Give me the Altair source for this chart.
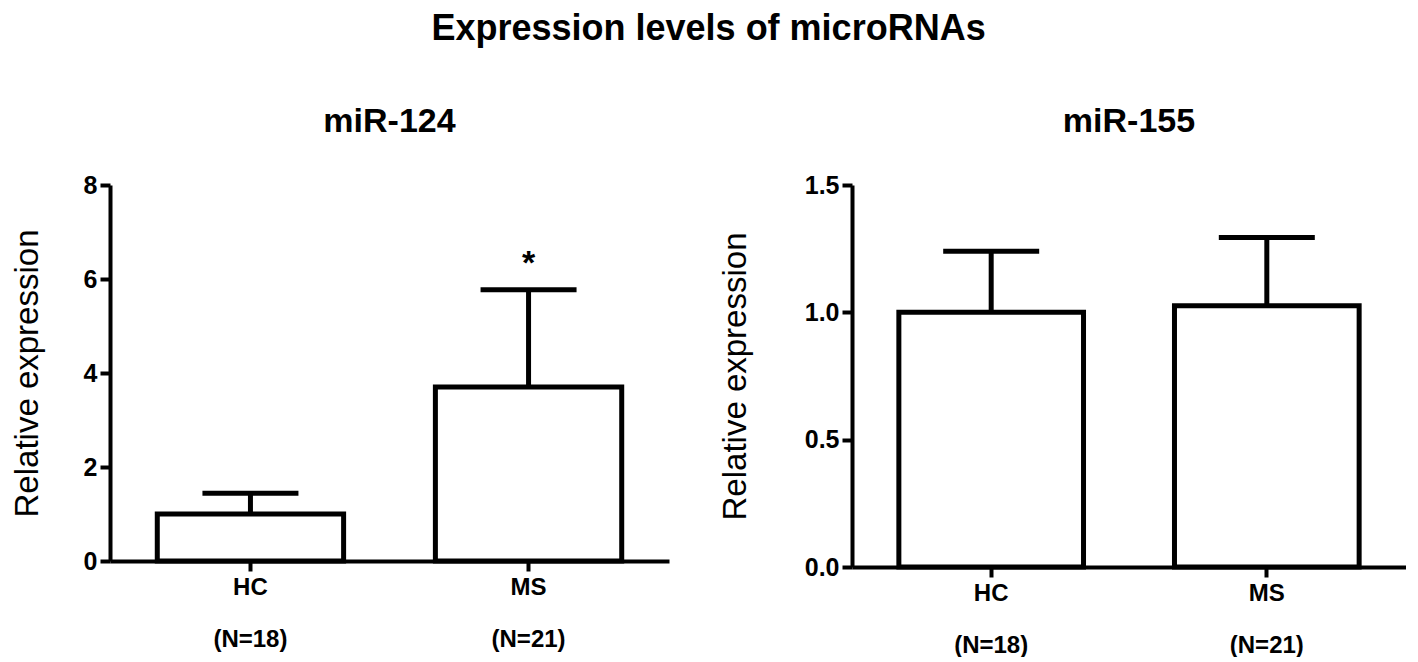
import altair as alt
import pandas as pd

groups = ["HC", "MS"]
n_labels = ["(N=18)", "(N=21)"]

mir124_mean = [1.0, 3.70]
mir124_err = [0.44, 2.07]
mir124_sig = ["", "*"]

mir155_mean = [1.0, 1.026]
mir155_err = [0.24, 0.268]
mir155_sig = ["", ""]

FONT = "Liberation Sans"


def panel(title, mean, err, sig, ymax, yticks, fmt, width, height, title_pad):
    df = pd.DataFrame({
        "cat": [f"{g}|{n}" for g, n in zip(groups, n_labels)],
        "mean": mean,
        "upper": [m + e for m, e in zip(mean, err)],
        "sig": sig,
    })
    xscale = alt.Scale(paddingInner=0.33, paddingOuter=0.17)
    x = alt.X(
        "cat:N", sort=None, title=None, scale=xscale,
        axis=alt.Axis(
            labelAngle=0,
            labelExpr="split(datum.label, '|')",
            labelLineHeight=52,
            labelFontSize=24,
            labelFontWeight="bold",
            labelFont=FONT,
            labelColor="black",
            labelPadding=4,
            tickSize=10,
            tickWidth=4,
            tickColor="black",
            domainWidth=4,
            domainColor="black",
        ),
    )
    y = alt.Y(
        "mean:Q",
        scale=alt.Scale(domain=[0, ymax], nice=False, zero=True),
        axis=alt.Axis(
            values=yticks,
            format=fmt,
            title="Relative expression",
            titleFont=FONT,
            titleFontSize=33,
            titleFontWeight="normal",
            titleColor="black",
            titlePadding=title_pad,
            labelFontSize=25,
            labelFontWeight="bold",
            labelFont=FONT,
            labelColor="black",
            labelPadding=3,
            tickSize=10,
            tickWidth=4,
            tickColor="black",
            domainWidth=4,
            domainColor="black",
            grid=False,
        ),
    )
    xs = alt.X("cat:N", sort=None, scale=xscale)
    base = alt.Chart(df)
    bars = base.mark_bar(fill="white", stroke="black", strokeWidth=5).encode(x=x, y=y)
    rule = base.mark_rule(color="black", strokeWidth=5).encode(x=xs, y="mean:Q", y2="upper:Q")
    cap = base.mark_tick(color="black", thickness=5, size=96, orient="horizontal", opacity=1).encode(
        x=xs, y="upper:Q")
    star = base.mark_text(dy=-26, fontSize=34, fontWeight="bold", font=FONT, color="black").encode(
        x=xs, y="upper:Q", text="sig:N")
    return alt.layer(bars, rule, cap, star).properties(
        width=width, height=height,
        title=alt.TitleParams(title, fontSize=34, font=FONT, fontWeight="bold",
                              color="black", offset=34, anchor="middle"),
    )


left = panel("miR-124", mir124_mean, mir124_err, mir124_sig, 8, [0, 2, 4, 6, 8], "d", 559, 376, 39)
right = panel("miR-155", mir155_mean, mir155_err, mir155_sig, 1.5, [0, 0.5, 1.0, 1.5], ".1f", 554, 382, 52)

chart = alt.hconcat(left, right, spacing=50).properties(
    title=alt.TitleParams("Expression levels of microRNAs", fontSize=36, font=FONT,
                          fontWeight="bold", color="black", anchor="middle", offset=57),
    padding={"left": 3, "top": 3, "right": 0, "bottom": 0},
).configure_view(stroke=None)

chart.save("out.html", embed_options={"renderer": "svg", "actions": False})
